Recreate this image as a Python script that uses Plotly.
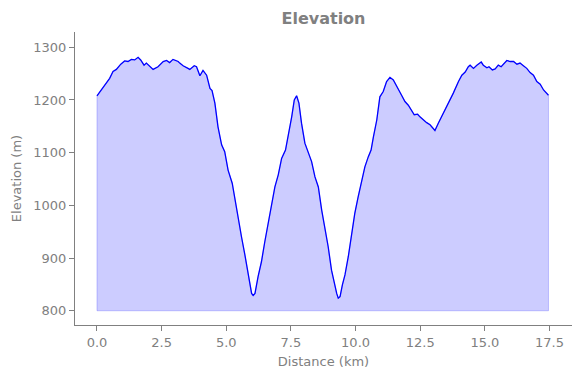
import plotly.graph_objects as go

# Distance along route (km)
distance_km = [
    0.00, 0.17, 0.36, 0.49, 0.62, 0.75, 0.92, 1.07, 1.20, 1.33, 1.46, 1.59, 1.69, 1.82, 1.91,
    2.04, 2.17, 2.36, 2.56, 2.69, 2.81, 2.94, 3.01, 3.14, 3.20, 3.33, 3.52, 3.59, 3.76, 3.85,
    3.98, 4.10, 4.24, 4.37, 4.45, 4.56, 4.68, 4.82, 4.94, 5.07, 5.23, 5.40, 5.59, 5.72, 5.85,
    5.98, 6.04, 6.11, 6.23, 6.36, 6.49, 6.62, 6.75, 6.88, 7.01, 7.14, 7.29, 7.39, 7.53, 7.63,
    7.72, 7.81, 7.91, 8.04, 8.17, 8.30, 8.43, 8.56, 8.69, 8.81, 8.94, 9.07, 9.20, 9.27, 9.33,
    9.40, 9.49, 9.59, 9.72, 9.85, 9.97, 10.10, 10.24, 10.36, 10.49, 10.60, 10.69, 10.82, 10.94,
    11.07, 11.20, 11.33, 11.46, 11.59, 11.78, 11.91, 12.04, 12.27, 12.40, 12.49, 12.62, 12.75,
    12.88, 13.01, 13.07, 13.20, 13.40, 13.59, 13.78, 13.98, 14.11, 14.24, 14.36, 14.43, 14.56,
    14.69, 14.86, 14.94, 15.08, 15.16, 15.29, 15.40, 15.52, 15.63, 15.72, 15.85, 15.98, 16.11,
    16.24, 16.36, 16.49, 16.62, 16.75, 16.88, 17.01, 17.14, 17.27, 17.40, 17.46,
]

# Elevation (m)
elevation_m = [
    1208, 1220, 1232, 1241, 1254, 1258, 1268, 1274, 1273, 1277, 1276, 1281, 1276, 1266, 1270,
    1263, 1258, 1263, 1273, 1275, 1271, 1277, 1276, 1273, 1270, 1265, 1260, 1258, 1265, 1263,
    1246, 1256, 1247, 1222, 1218, 1194, 1149, 1115, 1102, 1067, 1042, 991, 940, 906, 865,
    833, 829, 833, 865, 893, 931, 966, 1004, 1035, 1058, 1089, 1105, 1130, 1168, 1200,
    1208, 1194, 1156, 1118, 1099, 1083, 1054, 1035, 991, 960, 922, 877, 846, 833, 824,
    827, 849, 868, 903, 947, 985, 1016, 1048, 1073, 1092, 1105, 1130, 1162, 1206,
    1216, 1235, 1243, 1238, 1225, 1209, 1197, 1190, 1172, 1173, 1168, 1162, 1157,
    1153, 1146, 1142, 1156, 1175, 1194, 1213, 1235, 1247, 1253, 1263, 1266, 1260,
    1266, 1272, 1266, 1261, 1263, 1257, 1259, 1266, 1263, 1268, 1275, 1273, 1273,
    1268, 1270, 1265, 1260, 1252, 1247, 1235, 1230, 1219, 1213, 1209,
]

baseline_m = 800

x_ticks = [0.0, 2.5, 5.0, 7.5, 10.0, 12.5, 15.0, 17.5]
y_ticks = [800, 900, 1000, 1100, 1200, 1300]

GRAY = "#808080"
FONT = "DejaVu Sans"

fig = go.Figure()

# Filled area between the profile and the baseline
fill_x = distance_km + distance_km[::-1] + [distance_km[0]]
fill_y = elevation_m + [baseline_m] * len(distance_km) + [elevation_m[0]]
fig.add_trace(go.Scatter(
    x=fill_x, y=fill_y, mode="lines", fill="toself",
    fillcolor="rgba(0,0,255,0.2)",
    line=dict(color="rgba(0,0,255,0.2)", width=1),
    hoverinfo="skip", showlegend=False,
))

# Profile line
fig.add_trace(go.Scatter(
    x=distance_km, y=elevation_m, mode="lines",
    line=dict(color="#0000ff", width=1.3),
    showlegend=False,
))

fig.update_layout(
    width=580, height=378,
    margin=dict(l=75, r=8, t=32, b=53, autoexpand=False),
    paper_bgcolor="white", plot_bgcolor="white",
    font=dict(family=FONT, color=GRAY, size=13),
    title=dict(
        text="<b>Elevation</b>", x=0.5, xref="paper",
        y=1 - 18 / 378, yref="container", yanchor="middle", xanchor="center",
        font=dict(family=FONT, size=16, color=GRAY),
        automargin=False,
    ),
)

fig.update_xaxes(
    range=[-0.85, 18.37], tickvals=x_ticks,
    ticktext=[f"{v:.1f}" for v in x_ticks],
    showline=True, linecolor=GRAY, linewidth=1,
    ticks="outside", ticklen=5, tickwidth=1, tickcolor=GRAY,
    showgrid=False, zeroline=False, automargin=False,
    tickfont=dict(family=FONT, size=13, color=GRAY),
    title=dict(text="Distance (km)", font=dict(family=FONT, size=13, color=GRAY), standoff=8),
)
fig.update_yaxes(
    range=[773, 1329], tickvals=y_ticks,
    showline=True, linecolor=GRAY, linewidth=1,
    ticks="outside", ticklen=5, tickwidth=1, tickcolor=GRAY,
    showgrid=False, zeroline=False, automargin=False,
    tickfont=dict(family=FONT, size=13, color=GRAY),
    title=dict(text="Elevation (m)", font=dict(family=FONT, size=13, color=GRAY), standoff=8),
)

fig.write_html(
    "out.html",
    config={"displayModeBar": False},
    post_script="document.body.style.margin='0';document.body.style.padding='0';",
)
